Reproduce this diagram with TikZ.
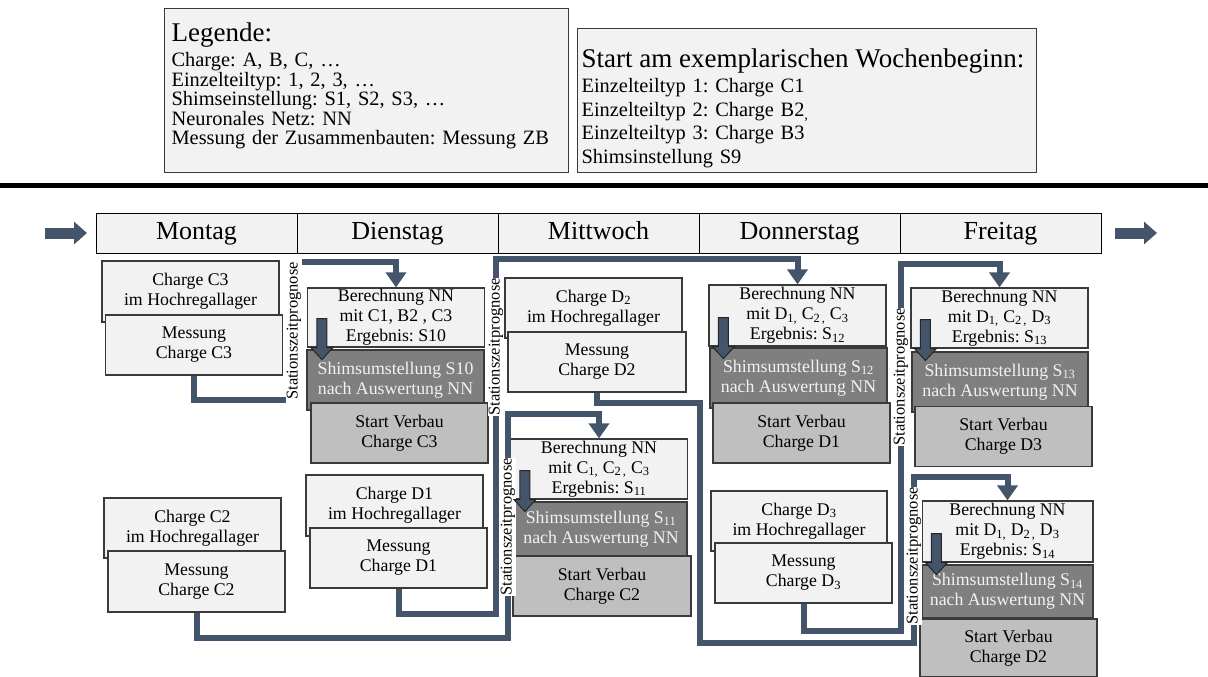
\documentclass[tikz,border=0pt]{standalone}
\usepackage{fontspec}
\setmainfont{Liberation Serif}
\usepackage{xcolor}
\usetikzlibrary{arrows.meta,calc,positioning}
\frenchspacing
\definecolor{flowblue}{HTML}{44546A}
\definecolor{lightbox}{HTML}{F2F2F2}
\definecolor{shimgray}{HTML}{7F7F7F}
\definecolor{verbaugray}{HTML}{BFBFBF}
\definecolor{frame}{HTML}{3A3A3A}
% small block arrow from a result box down into its shim box
\newcommand{\nnarrow}[1]{%
  \filldraw[fill=flowblue, draw=black!85, line width=1pt]
    ($(#1.south west)+(10,-29)$) -- ++(10,0) -- ++(0,29) -- ++(6,0)
    -- ++(-11,12) -- ++(-11,-12) -- ++(6,0) -- cycle;}

\begin{document}
\begin{tikzpicture}[x=1pt, y=-1pt,
    box/.style={draw=frame, line width=1.2pt, fill=lightbox, minimum width=177pt,
      minimum height=60pt, align=center, inner sep=1pt, font=\fontsize{17.8}{20}\selectfont},
    shim/.style={box, fill=shimgray, text=lightbox},
    verbau/.style={box, fill=verbaugray},
    day/.style={draw=black, line width=1pt, fill=lightbox, minimum width=201pt,
      minimum height=40pt, text height=18pt, text depth=5pt, outer sep=0pt,
      font=\fontsize{26}{28}\selectfont},
    legend/.style={draw=frame, line width=1.2pt, fill=lightbox, anchor=north west, align=left},
    prog/.style={rotate=90, fill=white, inner sep=0.5pt, font=\fontsize{16.5}{16.5}\selectfont},
    flow/.style={draw=flowblue, line width=6pt},
    feed/.style={flow, -{Triangle[width=20pt, length=15pt]}},
    week/.style={draw=flowblue, line width=11pt, -{Triangle[width=22pt, length=13pt]}}]
    \useasboundingbox (0,0) rectangle (1208,677);

    % HEADER: legend and starting state
    \node[legend, minimum height=164pt, text width=390pt, inner xsep=7pt,
        font=\fontsize{20.4}{18.5}\selectfont] (leg) at (164,8) {%
        {\fontsize{27}{27}\selectfont Legende:}\\[4pt]
        Charge: A, B, C, \dots\\
        Einzelteiltyp: 1, 2, 3, \dots\\
        Shimseinstellung: S1, S2, S3, \dots\\
        Neuronales Netz: NN\\
        Messung der Zusammenbauten: Messung ZB\\[-4.5pt]\mbox{}};
    \node[legend, minimum height=144pt, text width=451pt, inner xsep=4pt,
        font=\fontsize{20.4}{23.5}\selectfont] (wb) at (577,28) {%
        \mbox{}\\[10.5pt]
        {\fontsize{27}{27}\selectfont Start am exemplarischen Wochenbeginn:}\\[2pt]
        Einzelteiltyp 1: Charge C1\\
        Einzelteiltyp 2: Charge B2\textsubscript{,}\\
        Einzelteiltyp 3: Charge B3\\
        Shimsinstellung S9};
    \draw[line width=5pt] (0,185.5) -- (1208,185.5);

    % Week bar
    \node[day] (mo) at (196.5,233) {Montag};
    \node[day, right=0pt of mo] (di) {Dienstag};
    \node[day, right=0pt of di] (mi) {Mittwoch};
    \node[day, right=0pt of mi] (do) {Donnerstag};
    \node[day, right=0pt of do] (fr) {Freitag};
    \coordinate (win) at (45,233);
    \coordinate (wout) at (1157,233);
    \draw[week] (win) -- ([xshift=-9pt]mo.west);
    \draw[week] ([xshift=14pt]fr.east) -- (wout);

    % Montag
    \node[box, minimum height=61pt] (lagC3) at (190.5,291.5) {Charge C3\\im Hochregallager};
    \node[box] (messC3) at (194,345) {Messung\\Charge C3};
    \node[box] (lagC2) at (192.5,528) {Charge C2\\im Hochregallager};
    \node[box, minimum height=61pt] (messC2) at (196.5,581.5) {Messung\\Charge C2};

    % Dienstag
    \node[box, minimum height=59pt] (berS10) at (396,317.5) {Berechnung NN\\mit C1, B2 , C3\\Ergebnis: S10};
    \node[shim] (shimS10) at (395.5,380) {Shimsumstellung S10\\nach Auswertung NN};
    \node[verbau] (startC3) at (399.5,433) {Start Verbau\\Charge C3};
    \node[box, minimum height=61pt] (lagD1) at (394.5,505.5) {Charge D1\\im Hochregallager};
    \node[box] (messD1) at (398.5,558) {Messung\\Charge D1};

    % Mittwoch
    \node[box] (lagD2) at (593.5,308) {Charge D\textsubscript{2}\\im Hochregallager};
    \node[box, minimum width=178pt] (messD2) at (597,362) {Messung\\Charge D2};
    \node[box] (berS11) at (599,469) {Berechnung NN\\mit C\textsubscript{1,} C\textsubscript{2\,,} C\textsubscript{3}\\Ergebnis: S\textsubscript{11}};
    \node[shim, minimum width=172pt, minimum height=54pt] (shimS11) at (601,529) {Shimsumstellung S\textsubscript{11}\\nach Auswertung NN};
    \node[verbau, minimum width=178pt] (startC2) at (602,586) {Start Verbau\\Charge C2};

    % Donnerstag
    \node[box, minimum height=61pt] (berS12) at (797.5,315.5) {Berechnung NN\\mit D\textsubscript{1,} C\textsubscript{2\,,} C\textsubscript{3}\\Ergebnis: S\textsubscript{12}};
    \node[shim] (shimS12) at (798.5,378) {Shimsumstellung S\textsubscript{12}\\nach Auswertung NN};
    \node[verbau] (startD1) at (801.5,433) {Start Verbau\\Charge D1};
    \node[box, minimum width=176pt] (lagD3) at (799,521) {Charge D\textsubscript{3}\\im Hochregallager};
    \node[box] (messD3) at (803.5,573) {Messung\\Charge D\textsubscript{3}};

    % Freitag
    \node[box] (berS13) at (999.5,318) {Berechnung NN\\mit D\textsubscript{1,} C\textsubscript{2\,,} D\textsubscript{3}\\Ergebnis: S\textsubscript{13}};
    \node[shim, minimum width=176pt] (shimS13) at (1000,382) {Shimsumstellung S\textsubscript{13}\\nach Auswertung NN};
    \node[verbau] (startD3) at (1003.5,436.5) {Start Verbau\\Charge D3};
    \node[box, minimum width=171pt, minimum height=61pt] (berS14) at (1007.5,531.5) {Berechnung NN\\mit D\textsubscript{1,} D\textsubscript{2\,,} D\textsubscript{3}\\Ergebnis: S\textsubscript{14}};
    \node[shim, minimum width=171pt, minimum height=53pt] (shimS14) at (1007.5,591.5) {Shimsumstellung S\textsubscript{14}\\nach Auswertung NN};
    \node[verbau, minimum height=58pt] (startD2) at (1008.5,648) {Start Verbau\\Charge D2};

    % Stationszeitprognose markers
    \node[prog] (lab1) at (294,331) {Stationszeitprognose};
    \node[prog] (lab2) at (496,347) {Stationszeitprognose};
    \node[prog] (lab3) at (508,527) {Stationszeitprognose};
    \node[prog] (lab4) at (901,377) {Stationszeitprognose};
    \node[prog] (lab5) at (914,556) {Stationszeitprognose};

    % Measurement -> forecast -> NN computation
    \draw[flow] (messC3.south) |- (lab1.north west);
    \draw[feed] (lab1.south east) -| (berS10.north);
    \draw[flow] (messD1.south) -- ++(0,25) -| (lab2.west);
    \draw[feed] (lab2.east) -- ++(0,-19) -| (berS12.north);
    \draw[flow] (messC2.south) -- ++(0,25) -| (lab3.west);
    \draw[feed] (lab3.east) -- ++(0,-44) -| (berS11.north);
    \draw[flow] (messD3.south) -- ++(0,27) -| (lab4.west);
    \draw[feed] (lab4.east) -- ++(0,-44) -| (berS13.north);
    \draw[flow] (messD2.south) -- ++(0,10) -| ++(103,240) -| (lab5.west);
    \draw[feed] (lab5.east) -- ++(0,-10) -| (berS14.north);

    % NN result -> shim change
    \nnarrow{berS10}
    \nnarrow{berS11}
    \nnarrow{berS12}
    \nnarrow{berS13}
    \nnarrow{berS14}
\end{tikzpicture}
\end{document}
